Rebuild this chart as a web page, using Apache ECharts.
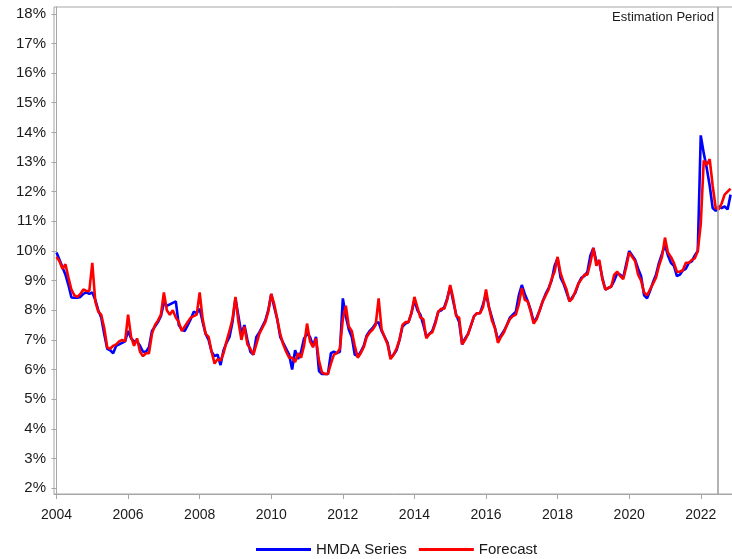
<!DOCTYPE html>
<html>
<head>
<meta charset="utf-8">
<script src="https://cdn.jsdelivr.net/npm/echarts@6/dist/echarts.min.js"></script>
<style>
html,body{margin:0;padding:0;background:#fff;}
#chart{width:732px;height:559px;}
</style>
</head>
<body>
<div id="chart"></div>
<script>
// Monthly values, Jan 2004 onward (percent)
const startYear = 2004;
const hmdaSeries = [
  9.95, 9.7, 9.45, 9.2, 8.85, 8.43, 8.42, 8.42, 8.45, 8.55, 8.6, 8.55,
  8.6, 8.35, 8.0, 7.75, 7.2, 6.7, 6.65, 6.55, 6.8, 6.85, 6.9, 6.95,
  7.3, 7.05, 6.95, 6.95, 6.8, 6.6, 6.6, 6.75, 7.3, 7.45, 7.6, 7.8,
  8.25, 8.15, 8.2, 8.25, 8.3, 7.5, 7.35, 7.3, 7.5, 7.7, 7.95, 7.9,
  8.05, 7.6, 7.2, 7.0, 6.6, 6.45, 6.5, 6.15, 6.65, 6.9, 7.1, 7.6,
  8.4, 7.8, 7.2, 7.5, 7.0, 6.6, 6.5, 7.1, 7.25, 7.45, 7.65, 8.0,
  8.55, 8.1, 7.7, 7.1, 6.9, 6.7, 6.5, 6.0, 6.65, 6.35, 6.6, 7.05,
  7.2, 7.1, 6.8, 7.1, 5.95, 5.85, 5.85, 5.85, 6.55, 6.6, 6.55, 6.6,
  8.4, 7.8, 7.35, 7.1, 6.5, 6.45, 6.6, 6.8, 7.15, 7.3, 7.4, 7.55,
  7.6, 7.3, 7.1, 6.9, 6.4, 6.5, 6.65, 7.0, 7.45, 7.55, 7.6, 7.9,
  8.35, 8.0, 7.85, 7.5, 7.1, 7.2, 7.3, 7.6, 7.95, 8.0, 8.1, 8.4,
  8.8, 8.3, 7.85, 7.6, 6.85, 7.05, 7.2, 7.5, 7.8, 7.9, 7.9, 8.2,
  8.55, 8.1, 7.75, 7.4, 7.0, 7.15, 7.3, 7.5, 7.75, 7.85, 7.95, 8.5,
  8.85, 8.55, 8.3, 8.0, 7.6, 7.75, 8.0, 8.3, 8.55, 8.75, 9.0, 9.5,
  9.75, 9.1, 8.9, 8.6, 8.3, 8.45, 8.6, 8.9, 9.1, 9.15, 9.3, 9.85,
  10.1, 9.65, 9.6, 9.1, 8.7, 8.75, 8.8, 9.0, 9.25, 9.2, 9.1, 9.55,
  10.0, 9.85, 9.7, 9.4, 9.15, 8.5, 8.4, 8.65, 8.95, 9.2, 9.6, 9.9,
  10.2, 9.85, 9.6, 9.5, 9.15, 9.2, 9.35, 9.4, 9.6, 9.65, 9.85, 10.0,
  13.9, 13.3, 12.8, 12.2, 11.45, 11.35, 11.5, 11.45, 11.5, 11.4, 11.9
];
const forecast = [
  9.8, 9.65, 9.4, 9.55, 9.1, 8.7, 8.5, 8.45, 8.55, 8.7, 8.65, 8.65,
  9.6, 8.3, 7.95, 7.85, 7.4, 6.75, 6.7, 6.8, 6.85, 6.95, 7.0, 6.95,
  7.85, 7.1, 6.8, 7.05, 6.6, 6.45, 6.55, 6.55, 7.2, 7.5, 7.65, 7.85,
  8.6, 8.0, 7.85, 8.0, 7.75, 7.6, 7.3, 7.45, 7.6, 7.75, 7.8, 7.85,
  8.6, 7.7, 7.2, 7.1, 6.6, 6.2, 6.35, 6.3, 6.55, 6.95, 7.3, 7.7,
  8.45, 7.6, 7.0, 7.45, 6.85, 6.7, 6.5, 6.85, 7.2, 7.4, 7.6, 7.95,
  8.55, 8.2, 7.7, 7.2, 6.85, 6.6, 6.4, 6.4, 6.25, 6.55, 6.4, 6.8,
  7.55, 6.95, 6.75, 7.05, 6.3, 5.9, 5.85, 5.85, 6.2, 6.5, 6.55, 6.7,
  7.7, 8.15, 7.45, 7.3, 6.8, 6.4, 6.55, 6.75, 7.1, 7.25, 7.35, 7.5,
  8.4, 7.35, 7.1, 6.85, 6.35, 6.5, 6.7, 7.0, 7.5, 7.6, 7.6, 7.9,
  8.45, 8.1, 7.75, 7.7, 7.05, 7.2, 7.25, 7.55, 7.95, 8.05, 8.05, 8.35,
  8.85, 8.4, 7.8, 7.75, 6.85, 7.0, 7.2, 7.5, 7.8, 7.9, 7.9, 8.1,
  8.7, 8.1, 7.65, 7.4, 6.9, 7.1, 7.25, 7.5, 7.7, 7.8, 7.85, 8.2,
  8.75, 8.35, 8.3, 7.95, 7.55, 7.7, 8.0, 8.3, 8.5, 8.7, 9.05, 9.3,
  9.8, 9.25, 8.95, 8.7, 8.3, 8.4, 8.65, 8.9, 9.05, 9.2, 9.2, 9.6,
  10.1, 9.5, 9.7, 9.05, 8.7, 8.75, 8.8, 9.2, 9.3, 9.15, 9.05, 9.45,
  9.95, 9.8, 9.65, 9.2, 9.0, 8.6, 8.5, 8.7, 8.9, 9.1, 9.5, 9.8,
  10.45, 9.95, 9.8, 9.6, 9.3, 9.3, 9.35, 9.6, 9.6, 9.7, 9.75, 10.0,
  10.9, 13.05, 12.9, 13.1, 12.2, 11.45, 11.4, 11.6, 11.9, 12.0, 12.1
];
const xTickYears = [2004, 2006, 2008, 2010, 2012, 2014, 2016, 2018, 2020, 2022];
const yTicks = [2,3,4,5,6,7,8,9,10,11,12,13,14,15,16,17,18];
const estimationStart = 221.8; // months since Jan 2004 (mid 2022)
const seriesNames = ['HMDA Series', 'Forecast'];

const toPairs = arr => arr.map((v, i) => [i, v]);
const xTickMonths = xTickYears.map(y => (y - startYear) * 12);

const FONT = '"Liberation Sans", Arial, sans-serif';
const chart = echarts.init(document.getElementById('chart'), null, {renderer: 'canvas'});
chart.setOption({
  animation: false,
  backgroundColor: '#ffffff',
  grid: {
    left: 54, top: 7, width: 690, height: 487,
    outerBoundsMode: 'none', containLabel: false,
    show: true, borderColor: '#a6a6a6', borderWidth: 1, backgroundColor: 'transparent'
  },
  xAxis: {
    type: 'value',
    min: -0.84, max: 230.5,
    axisLine: {show: true, lineStyle: {color: '#a6a6a6', width: 1}},
    axisTick: {show: true, length: 5, lineStyle: {color: '#a6a6a6'}, customValues: xTickMonths},
    axisLabel: {
      customValues: xTickMonths,
      formatter: v => String(startYear + Math.round(v / 12)),
      color: '#1a1a1a', fontFamily: FONT, fontSize: 14, margin: 14
    },
    splitLine: {show: false}
  },
  yAxis: {
    type: 'value',
    min: 1.8, max: 18.23,
    axisLine: {show: true, lineStyle: {color: '#a6a6a6', width: 1}},
    axisTick: {show: true, length: 5, lineStyle: {color: '#a6a6a6'}, customValues: yTicks},
    axisLabel: {
      customValues: yTicks,
      formatter: v => Math.round(v) + '%',
      color: '#1a1a1a', fontFamily: FONT, fontSize: 15, margin: 8
    },
    splitLine: {show: false}
  },
  legend: {
    left: 251, top: 537,
    itemWidth: 55, itemHeight: 3, itemGap: 12,
    icon: 'rect',
    textStyle: {color: '#1a1a1a', fontFamily: FONT, fontSize: 15},
    data: seriesNames
  },
  graphic: [{
    type: 'text',
    right: 18, top: 11,
    style: {text: 'Estimation Period', fill: '#1a1a1a', font: '13px ' + FONT}
  }],
  series: [
    {
      name: seriesNames[0], type: 'line', data: toPairs(hmdaSeries),
      showSymbol: false, symbol: 'none', color: '#0000ff',
      lineStyle: {color: '#0000ff', width: 2.6}, z: 2,
      markLine: {
        silent: true, symbol: 'none', animation: false,
        label: {show: false},
        lineStyle: {color: '#9a9a9a', width: 1.5, type: 'solid'},
        data: [{xAxis: estimationStart}]
      }
    },
    {
      name: seriesNames[1], type: 'line', data: toPairs(forecast),
      showSymbol: false, symbol: 'none', color: '#ff0000',
      lineStyle: {color: '#ff0000', width: 2.6}, z: 3
    }
  ]
});
</script>
</body>
</html>
